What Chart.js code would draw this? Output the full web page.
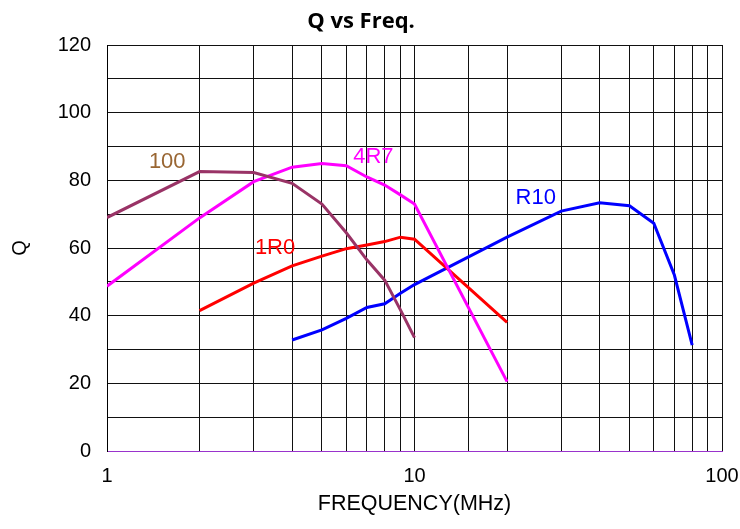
<!DOCTYPE html>
<html>
<head>
<meta charset="utf-8">
<script src="https://cdn.jsdelivr.net/npm/chart.js@4.4.1/dist/chart.umd.min.js"></script>
<style>
  html, body { margin: 0; padding: 0; background: #fff; }
  #wrap { width: 740px; height: 529px; }
</style>
</head>
<body>
<div id="wrap"><canvas id="chart"></canvas></div>
<script>
// Q vs frequency for four parts
var freq100 = [1, 2, 3, 4, 5, 6, 7, 8, 9, 10]
var q100 = [69, 82.6, 82.3, 79.1, 73, 64.5, 56.5, 50.5, 41.7, 33.5]

var freq4R7 = [1, 2, 3, 4, 5, 6, 7, 8, 9, 10, 20]
var q4R7 = [48.7, 68.9, 79.6, 83.9, 85, 84.3, 81, 78.6, 75.7, 73, 20.5]

var freq1R0 = [2, 3, 4, 5, 6, 7, 8, 9, 10, 20]
var q1R0 = [41.5, 49.6, 54.7, 57.6, 59.8, 60.9, 61.9, 63.2, 62.6, 38]

var freqR10 = [4, 5, 6, 7, 8, 9, 10, 20, 30, 40, 50, 60, 70, 80]
var qR10 = [32.8, 35.8, 39.2, 42.4, 43.5, 46.6, 49.2, 63.2, 70.9, 73.4, 72.5, 67.3, 52, 31.3]

// curve labels: [text, freq, Q, colour]
var curveLabels = [
  ['100', 1.57, 85.4, '#996633'],
  ['4R7', 7.35, 86.9, '#ff00ff'],
  ['1R0', 3.52, 60, '#ff0000'],
  ['R10', 24.8, 74.8, '#0000ff']
]

var sans = '"Liberation Sans", Arial, sans-serif'

function pts(xs, ys) {
  return xs.map(function (x, i) { return { x: x, y: ys[i] } })
}

var labelPlugin = {
  id: 'curveLabels',
  afterDatasetsDraw: function (chart) {
    var c = chart.ctx
    var xs = chart.scales.x
    var ys = chart.scales.y
    c.save()
    c.font = '22px ' + sans
    c.textAlign = 'center'
    c.textBaseline = 'middle'
    curveLabels.forEach(function (l) {
      c.fillStyle = l[3]
      c.fillText(l[0], xs.getPixelForValue(l[1]), ys.getPixelForValue(l[2]))
    })
    c.restore()
  }
}

var ctx = document.getElementById('chart').getContext('2d')
var chart = new Chart(ctx, {
  type: 'line',
  data: {
    datasets: [{
      label: '100',
      data: pts(freq100, q100),
      borderColor: '#993366'
    }, {
      label: '4R7',
      data: pts(freq4R7, q4R7),
      borderColor: '#ff00ff'
    }, {
      label: '1R0',
      data: pts(freq1R0, q1R0),
      borderColor: '#ff0000'
    }, {
      label: 'R10',
      data: pts(freqR10, qR10),
      borderColor: '#0000ff'
    }]
  },
  options: {
    animation: false,
    responsive: true,
    maintainAspectRatio: false,
    elements: {
      line: { borderWidth: 3, tension: 0, fill: false },
      point: { radius: 0, hoverRadius: 0 }
    },
    layout: { padding: { left: 0, right: 18, top: 0, bottom: 0 } },
    plugins: {
      legend: { display: false },
      tooltip: { enabled: false },
      title: {
        display: true,
        text: 'Q vs Freq.',
        color: '#000',
        font: { family: '"Open Sans", sans-serif', size: 22, weight: 'bold' },
        padding: { top: 9, bottom: 9.6 }
      }
    },
    scales: {
      x: {
        type: 'logarithmic',
        min: 1,
        max: 100,
        afterFit: function (s) {
          s.height = 78
          s.paddingLeft = 0
          s.paddingRight = 0
        },
        grid: { color: '#111', lineWidth: 1, drawTicks: false },
        border: { color: '#9933cc', width: 1 },
        ticks: {
          autoSkip: false,
          maxRotation: 0,
          padding: 13,
          color: '#000',
          font: { family: sans, size: 20 },
          callback: function (v) {
            return [1, 10, 100].indexOf(v) >= 0 ? String(v) : ''
          }
        },
        title: {
          display: true,
          text: 'FREQUENCY(MHz)',
          color: '#000',
          font: { family: sans, size: 21.5 },
          padding: { top: 0, bottom: 12 }
        }
      },
      y: {
        min: 0,
        max: 120,
        afterFit: function (s) { s.width = 107 },
        grid: { color: '#111', lineWidth: 1, drawTicks: false },
        border: { color: '#000', width: 1 },
        ticks: {
          stepSize: 10,
          autoSkip: false,
          padding: 16,
          color: '#000',
          font: { family: sans, size: 20 },
          callback: function (v) { return v % 20 === 0 ? String(v) : '' }
        },
        title: {
          display: true,
          text: 'Q',
          color: '#000',
          font: { family: sans, size: 20 },
          padding: { top: 8, bottom: 0 }
        }
      }
    }
  },
  plugins: [labelPlugin]
})
</script>
</body>
</html>
